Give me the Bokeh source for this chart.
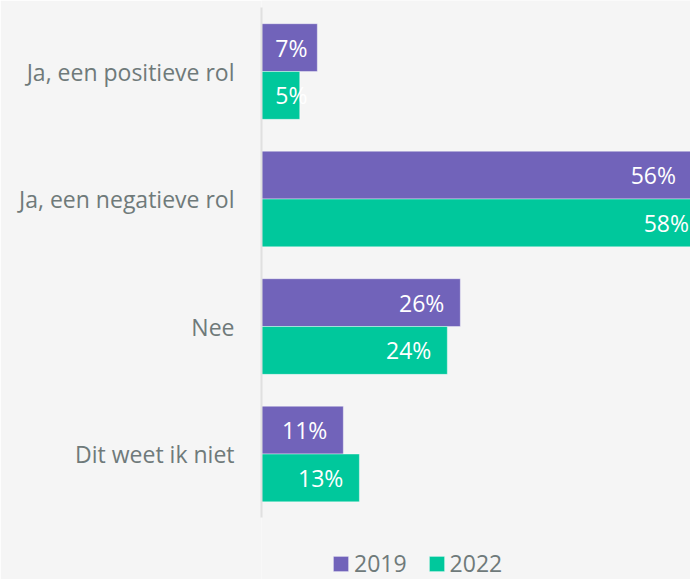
from bokeh.plotting import figure
from bokeh.models import ColumnDataSource, Range1d, Legend, LegendItem, FixedTicker
from bokeh.core.properties import value
from bokeh.embed import file_html
from bokeh.resources import INLINE

# ---- data ----
categories = ["Ja, een positieve rol", "Ja, een negatieve rol", "Nee", "Dit weet ik niet"]
series = ["2019", "2022"]
values_2019 = [7.3, 56.3, 26.0, 10.7]
values_2022 = [5.0, 58.0, 24.3, 12.8]

# ---- style ----
BG = "#f5f5f5"
PURPLE = "#7163ba"
TEAL = "#00c89c"
TEXT = "#6f7a7a"
FONT = "Open Sans"
FS = "23px"

n = len(categories)
idx = list(range(n))
h = 0.375

src = ColumnDataSource(dict(
    pos=idx,
    v2019=values_2019,
    v2022=values_2022,
    y2019=[i - h / 2 for i in idx],
    y2022=[i + h / 2 for i in idx],
    l2019=[f"{round(v)}%" for v in values_2019],
    l2022=[f"{round(v)}%" for v in values_2022],
    x2019=[max(v, 8.1) for v in values_2019],
    x2022=[max(v, 8.1) for v in values_2022],
))

p = figure(width=690, height=579, output_backend="svg", toolbar_location=None,
           y_range=Range1d(n - 0.016, -0.557),
           x_range=Range1d(0, 56.1),
           background_fill_color=BG, border_fill_color=BG,
           min_border_left=261, min_border_right=0, min_border_top=0,
           min_border_bottom=0)
p.outline_line_color = None
p.xgrid.visible = False
p.ygrid.visible = False
p.xaxis.visible = False

yax = p.yaxis[0]
yax.ticker = FixedTicker(ticks=idx)
yax.major_label_overrides = {i: c for i, c in zip(idx, categories)}
yax.bounds = (-0.5, n - 0.5)
yax.axis_line_color = "#e0e0e0"
yax.axis_line_width = 2
yax.major_tick_line_color = None
yax.minor_tick_line_color = None
yax.major_label_text_font = FONT
yax.major_label_text_font_size = FS
yax.major_label_text_color = TEXT
yax.major_label_standoff = 21

r1 = p.hbar(y="y2019", right="v2019", left=0, height=h, source=src,
            fill_color=PURPLE, line_color="white", line_alpha=0.4, line_width=1)
r2 = p.hbar(y="y2022", right="v2022", left=0, height=h, source=src,
            fill_color=TEAL, line_color="white", line_alpha=0.4, line_width=1)

p.text(x="x2019", y="y2019", text="l2019", source=src,
       text_align="right", text_baseline="middle", x_offset=-16,
       text_font=value(FONT), text_font_size=FS, text_color="white")
p.text(x="x2022", y="y2022", text="l2022", source=src,
       text_align="right", text_baseline="middle", x_offset=-16,
       text_font=value(FONT), text_font_size=FS, text_color="white")

legend = Legend(items=[LegendItem(label=series[0], renderers=[r1]),
                       LegendItem(label=series[1], renderers=[r2])],
                orientation="horizontal", location=(70, 0),
                background_fill_alpha=0, border_line_color=None,
                label_text_font=FONT, label_text_font_size=FS, label_text_color=TEXT,
                glyph_width=19, glyph_height=19, label_standoff=4, spacing=20,
                padding=4, margin=0)
p.add_layout(legend)

open("out.html", "w").write(file_html(p, INLINE))
